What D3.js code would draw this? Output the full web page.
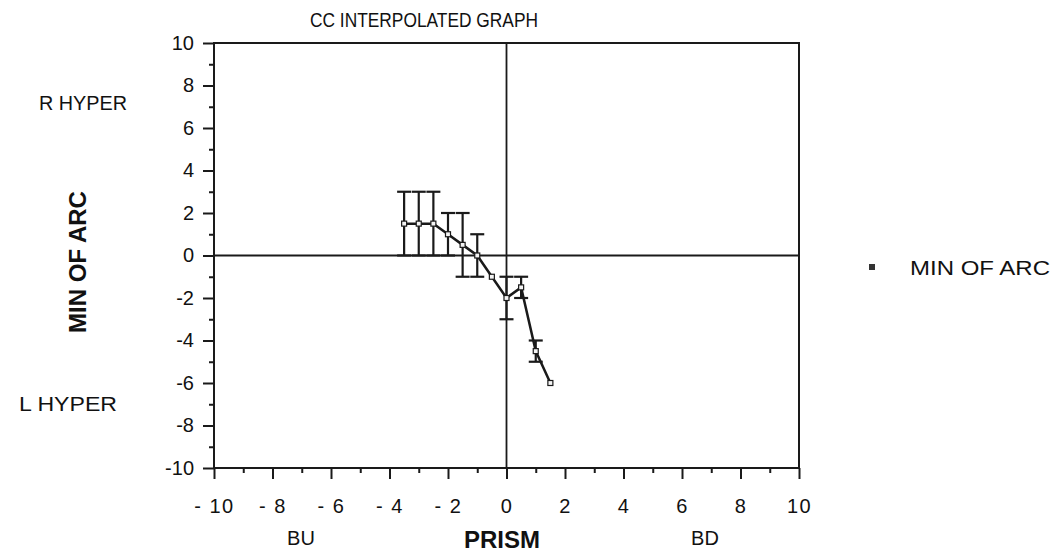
<!DOCTYPE html>
<html lang="en">
<head>
<meta charset="UTF-8">
<title>CC Interpolated Graph</title>
<script src="https://d3js.org/d3.v7.min.js"></script>
<style>
  body { margin: 0; background: #fff; }
  svg text { font-family: "Liberation Sans", Arial, Helvetica, sans-serif; fill: #111; }
</style>
</head>
<body>
<div id="chart"></div>
<script>
  // data
  const prism = [-3.5, -3, -2.5, -2, -1.5, -1, -0.5, 0, 0.5, 1, 1.5];
  const minOfArc = [1.5, 1.5, 1.5, 1, 0.5, 0, -1, -2, -1.5, -4.5, -6];
  const errBar = [1.5, 1.5, 1.5, 1, 1.5, 1, 0, 1, 0.5, 0.5, 0];
  const majorTicks = [-10, -8, -6, -4, -2, 0, 2, 4, 6, 8, 10];
  const minorTicks = [-9, -7, -5, -3, -1, 1, 3, 5, 7, 9];

  const width = 1055;
  const height = 556;
  const ink = "#1a1a1a";

  const x = d3.scaleLinear().domain([-10, 10]).range([214, 799]);
  const y = d3.scaleLinear().domain([-10, 10]).range([468, 43]);

  const svg = d3.select("#chart")
    .append("svg")
    .attr("width", width)
    .attr("height", height);

  // title
  svg.append("text")
    .attr("x", 424).attr("y", 27)
    .attr("text-anchor", "middle")
    .attr("font-size", 21)
    .attr("textLength", 228)
    .attr("lengthAdjust", "spacingAndGlyphs")
    .text("CC INTERPOLATED GRAPH");

  // frame
  svg.append("rect")
    .attr("x", x(-10)).attr("y", y(10))
    .attr("width", x(10) - x(-10))
    .attr("height", y(-10) - y(10))
    .attr("fill", "none")
    .attr("stroke", ink)
    .attr("stroke-width", 2);

  // zero lines
  svg.append("line")
    .attr("x1", x(0)).attr("x2", x(0))
    .attr("y1", y(10)).attr("y2", y(-10))
    .attr("stroke", ink).attr("stroke-width", 1.8);
  svg.append("line")
    .attr("x1", x(-10)).attr("x2", x(10))
    .attr("y1", y(0)).attr("y2", y(0))
    .attr("stroke", ink).attr("stroke-width", 1.8);

  // y axis
  const yAxis = svg.append("g")
    .attr("transform", `translate(${x(-10)},0)`)
    .call(d3.axisLeft(y).tickValues(majorTicks).tickSize(11).tickPadding(9)
      .tickFormat(d => String(d)));
  svg.append("g")
    .attr("transform", `translate(${x(-10)},0)`)
    .call(d3.axisLeft(y).tickValues(minorTicks).tickSize(5).tickFormat(""));

  // x axis
  const xAxis = svg.append("g")
    .attr("transform", `translate(0,${y(-10)})`)
    .call(d3.axisBottom(x).tickValues(majorTicks).tickSize(11).tickPadding(20)
      .tickFormat(d => d < 0 ? "- " + Math.abs(d) : String(d)));
  svg.append("g")
    .attr("transform", `translate(0,${y(-10)})`)
    .call(d3.axisBottom(x).tickValues(minorTicks).tickSize(5).tickFormat(""));

  svg.selectAll(".domain").remove();
  svg.selectAll(".tick line").attr("stroke", ink).attr("stroke-width", 2);
  yAxis.selectAll("text").attr("font-size", 20).attr("fill", ink)
    .attr("font-family", "Liberation Sans, Arial, sans-serif");
  xAxis.selectAll("text").attr("font-size", 20).attr("fill", ink)
    .attr("letter-spacing", 1.5)
    .attr("font-family", "Liberation Sans, Arial, sans-serif");

  // axis titles and side labels
  svg.append("text")
    .attr("x", 502).attr("y", 548)
    .attr("text-anchor", "middle")
    .attr("font-size", 24).attr("font-weight", "bold")
    .text("PRISM");
  svg.append("text")
    .attr("x", 301).attr("y", 545)
    .attr("text-anchor", "middle")
    .attr("font-size", 20)
    .text("BU");
  svg.append("text")
    .attr("x", 705).attr("y", 545)
    .attr("text-anchor", "middle")
    .attr("font-size", 20)
    .text("BD");
  svg.append("text")
    .attr("transform", "translate(86,262) rotate(-90)")
    .attr("text-anchor", "middle")
    .attr("font-size", 24).attr("font-weight", "bold")
    .text("MIN OF ARC");
  svg.append("text")
    .attr("x", 83).attr("y", 110)
    .attr("text-anchor", "middle")
    .attr("font-size", 20)
    .attr("textLength", 88)
    .attr("lengthAdjust", "spacingAndGlyphs")
    .text("R HYPER");
  svg.append("text")
    .attr("x", 68).attr("y", 411)
    .attr("text-anchor", "middle")
    .attr("font-size", 20)
    .attr("textLength", 98)
    .attr("lengthAdjust", "spacingAndGlyphs")
    .text("L HYPER");

  // series
  const pts = prism.map((p, i) => ({ x: p, y: minOfArc[i], e: errBar[i] }));

  const bars = svg.append("g").selectAll("g")
    .data(pts.filter(d => d.e > 0))
    .join("g")
    .attr("stroke", ink)
    .attr("stroke-width", 2.2);
  bars.append("line")
    .attr("x1", d => x(d.x)).attr("x2", d => x(d.x))
    .attr("y1", d => y(d.y + d.e)).attr("y2", d => y(d.y - d.e));
  bars.append("line")
    .attr("x1", d => x(d.x) - 7).attr("x2", d => x(d.x) + 7)
    .attr("y1", d => y(d.y + d.e)).attr("y2", d => y(d.y + d.e));
  bars.append("line")
    .attr("x1", d => x(d.x) - 7).attr("x2", d => x(d.x) + 7)
    .attr("y1", d => y(d.y - d.e)).attr("y2", d => y(d.y - d.e));

  svg.append("path")
    .datum(pts)
    .attr("fill", "none")
    .attr("stroke", ink)
    .attr("stroke-width", 2.5)
    .attr("d", d3.line().x(d => x(d.x)).y(d => y(d.y)));

  svg.append("g").selectAll("rect")
    .data(pts)
    .join("rect")
    .attr("x", d => x(d.x) - 2.5).attr("y", d => y(d.y) - 2.5)
    .attr("width", 5).attr("height", 5)
    .attr("fill", "#f4f4f4")
    .attr("stroke", ink)
    .attr("stroke-width", 1.2);

  // legend
  svg.append("rect")
    .attr("x", 869).attr("y", 264)
    .attr("width", 6).attr("height", 6)
    .attr("fill", "#333");
  svg.append("text")
    .attr("x", 910).attr("y", 275)
    .attr("font-size", 21)
    .attr("textLength", 140)
    .attr("lengthAdjust", "spacingAndGlyphs")
    .text("MIN OF ARC");
</script>
</body>
</html>
